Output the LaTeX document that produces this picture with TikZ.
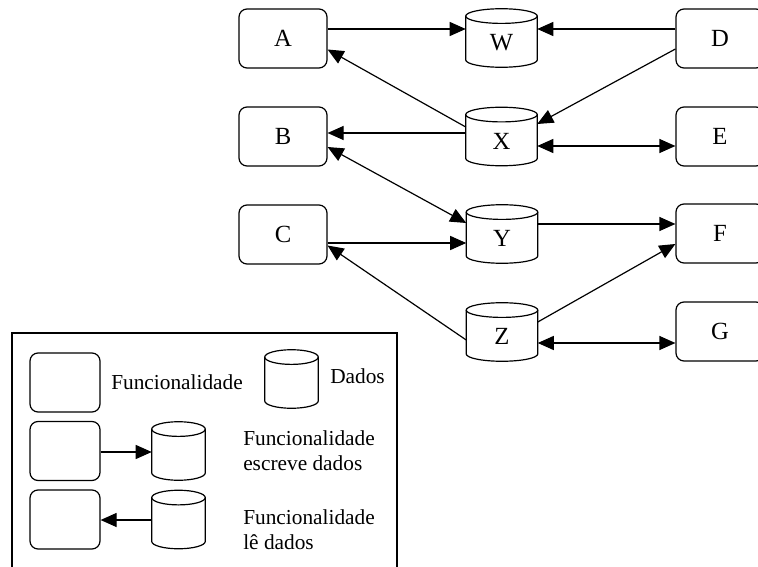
\documentclass[tikz,border=0pt]{standalone}
\usepackage{fontspec}
\setmainfont{Liberation Serif}
\usetikzlibrary{arrows.meta,calc}
\tikzset{
  fbox/.style={draw, rounded corners=6pt, minimum width=66pt, minimum height=44.25pt, inner sep=0pt, line width=0.9pt, font=\fontsize{18.5}{22}\selectfont},
  lbox/.style={fbox, minimum width=52.5pt},
  cylnode/.style={rectangle, minimum width=53.25pt, minimum height=43.5pt, inner sep=0pt},
  lcyl/.style={cylnode, minimum width=39.75pt},
  cyltext/.style={font=\fontsize{18.5}{22}\selectfont, inner sep=0pt},
  conn/.style={line width=0.9pt, -{Triangle[length=12pt,width=10.5pt]}},
  bconn/.style={line width=0.9pt, {Triangle[length=12pt,width=10.5pt]}-{Triangle[length=12pt,width=10.5pt]}},
  ltext/.style={font=\fontsize{16}{19}\selectfont, anchor=west, align=left, inner sep=0pt}
}
\newcommand{\cylshape}[1]{%
  \draw[line width=0.9pt, fill=white] ($(#1.north west)+(0pt,-5.5pt)$) -- ($(#1.south west)+(0pt,5.5pt)$)
    let \p1=($(#1.east)-(#1.west)$) in
    arc[start angle=180, end angle=360, x radius=0.5*\x1, y radius=5.5pt] -- ($(#1.north east)+(0pt,-5.5pt)$);
  \draw[line width=0.9pt] let \p1=($(#1.east)-(#1.west)$) in ($(#1.north)+(0pt,-5.5pt)$) ellipse[x radius=0.5*\x1, y radius=5.5pt];
}
\begin{document}
\begin{tikzpicture}[x=0.75pt,y=-0.75pt]
\useasboundingbox (0,0) rectangle (758,567);
\clip (0,0) rectangle (758,567);
% functional boxes
\node[fbox] (A) at (283,38.5) {A};
\node[fbox] (B) at (283,136.5) {B};
\node[fbox] (C) at (283,234.5) {C};
\node[fbox] (D) at (720,38.5) {D};
\node[fbox] (E) at (720,136.5) {E};
\node[fbox] (F) at (720,233.5) {F};
\node[fbox] (G) at (720,331.5) {G};
% data cylinders (nodes, shapes drawn after)
\node[cylnode] (W) at (501.5,38) {};
\node[cylnode] (X) at (501.5,136.5) {};
\node[cylnode] (Y) at (502,234) {};
\node[cylnode] (Z) at (502,332) {};
\cylshape{W}\cylshape{X}\cylshape{Y}\cylshape{Z}
\node[cyltext] (tW) at ($(W.center)+(0,4.5)$) {W};
\node[cyltext] (tX) at ($(X.center)+(0,4.5)$) {X};
\node[cyltext] (tY) at ($(Y.center)+(0,4.5)$) {Y};
\node[cyltext] (tZ) at ($(Z.center)+(0,4.5)$) {Z};
% connectors
\draw[conn] ($(A.east)+(0,-9.5)$) -- ($(W.west)+(0,-9)$);
\draw[conn] ($(D.west)+(0,-9.5)$) -- ($(W.east)+(0,-9)$);
\draw[conn] ($(X.west)+(0,-9.5)$) -- ($(A.east)+(0,11)$);
\draw[conn] ($(X.west)+(0,-3.5)$) -- ($(B.east)+(0,-3.5)$);
\draw[conn] ($(D.west)+(0,10.5)$) -- ($(X.east)+(0,-12.5)$);
\draw[bconn] ($(X.east)+(0,9.5)$) -- ($(E.west)+(0,9.5)$);
\draw[bconn] ($(B.east)+(0,10.5)$) -- ($(Y.west)+(0,-11)$);
\draw[conn] ($(C.east)+(0,8.5)$) -- ($(Y.west)+(0,9)$);
\draw[conn] ($(Y.east)+(0,-10)$) -- ($(F.west)+(0,-9.5)$);
\draw[conn] ($(Z.east)+(0,-10)$) -- ($(F.west)+(0,10.5)$);
\draw[conn] ($(Z.west)+(0,8)$) -- ($(C.east)+(0,11)$);
\draw[bconn] ($(Z.east)+(0,11)$) -- ($(G.west)+(0,11.5)$);
% legend
\draw[line width=0.9pt] (12,333) rectangle (397,600);
\node[lbox] (L1) at (65,382.5) {};
\node[lbox] (L2) at (65,451) {};
\node[lbox] (L3) at (65,519.5) {};
\node[lcyl] (C1) at (291.5,379) {};
\node[lcyl] (C2) at (178.5,451) {};
\node[lcyl] (C3) at (178.5,519.5) {};
\cylshape{C1}\cylshape{C2}\cylshape{C3}
\draw[conn] ($(L2.east)+(0,1)$) -- ($(C2.west)+(0,1)$);
\draw[conn] ($(C3.west)+(0,0.5)$) -- ($(L3.east)+(0,0.5)$);
\node[ltext] (T1) at (111,382) {Funcionalidade};
\node[ltext] (T2) at (330,376) {Dados};
\node[ltext] (T3) at (243,450.5) {Funcionalidade\\escreve dados};
\node[ltext] (T4) at (243,529.5) {Funcionalidade\\lê dados};
\end{tikzpicture}
\end{document}
